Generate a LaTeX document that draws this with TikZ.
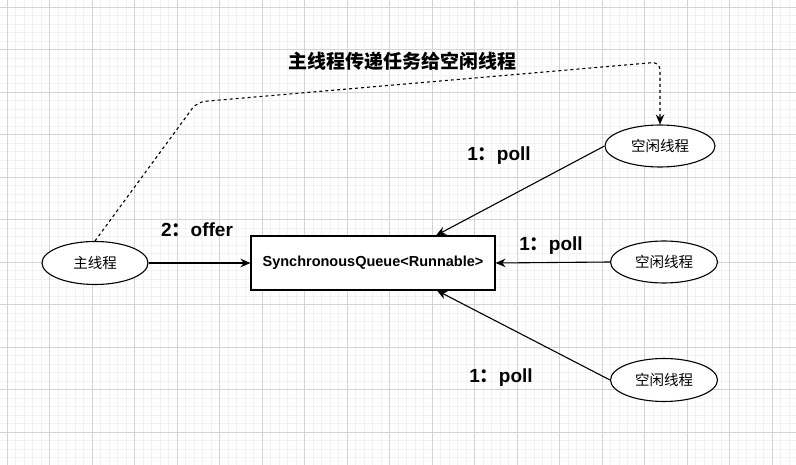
\documentclass[tikz,border=0pt]{standalone}
\usepackage{fontspec}
\setmainfont{Liberation Sans}
\newfontfamily\cjk{Noto Sans CJK SC}
\usetikzlibrary{arrows.meta,shapes.geometric}
\tikzset{
  minorgrid/.style={draw=black!5, line width=0.6pt},
  majorgrid/.style={draw=black!17, line width=0.8pt},
  oval/.style={ellipse, draw, line width=1.1pt, fill=white, inner sep=0pt, font=\cjk\fontsize{14.5}{16}\selectfont},
  queuebox/.style={rectangle, draw, line width=1.1pt, fill=white, minimum width=244pt, minimum height=54pt, inner sep=0pt, font=\bfseries\fontsize{14.5}{16}\selectfont},
  lbl/.style={inner sep=0pt, font=\bfseries\fontsize{19}{21}\selectfont},
  conn/.style={line width=1.1pt, -{Stealth[length=10pt,width=8.5pt]}},
  dashconn/.style={line width=1.1pt, dash pattern=on 3pt off 3pt, rounded corners=8pt, -{Stealth[length=10pt,width=8.5pt]}}
}
\begin{document}
\begin{tikzpicture}[x=1pt,y=-1pt]
\useasboundingbox (0,0) rectangle (796,465);
\begin{scope}
\clip (0,0) rectangle (796,465);
\fill[white] (0,0) rectangle (796,465);
\foreach \i in {0,...,94} {
  \draw[minorgrid] ({-1.5+8.5*\i},0) -- ++(0,465);
}
\foreach \i in {0,...,56} {
  \draw[minorgrid] (0,{-1.5+8.5*\i}) -- ++(796,0);
}
\foreach \i in {0,...,18} {
  \draw[majorgrid] ({7+42.5*\i},0) -- ++(0,465);
}
\foreach \i in {0,...,11} {
  \draw[majorgrid] (0,{7+42.5*\i}) -- ++(796,0);
}
\end{scope}

\node[oval, minimum width=106pt, minimum height=43pt] (main) at (95,263) {主线程};
\node[oval, minimum width=110pt, minimum height=42pt] (idle1) at (660,146) {空闲线程};
\node[oval, minimum width=107pt, minimum height=42pt] (idle2) at (664,262) {空闲线程};
\node[oval, minimum width=107pt, minimum height=43pt] (idle3) at (664,380) {空闲线程};
\node[queuebox] (box) at (373,263) {SynchronousQueue<Runnable>};

\node[lbl] (title) at (402,61) {\cjk 主线程传递任务给空闲线程};
\node[lbl] (offer) at (197,230) {2{\cjk ：}offer};
\node[lbl] (poll1) at (499,156) {1{\cjk ：}poll};
\node[lbl] (poll2) at (551,246) {1{\cjk ：}poll};
\node[lbl] (poll3) at (501,378) {1{\cjk ：}poll};

\coordinate (c1) at (197,102);
\coordinate (c2) at (660,62);

\draw[conn] (main.east) -- (box.west);
\draw[conn] (idle2.west) -- (box.east);
\draw[conn] (idle1.west) -- ([xshift=63pt]box.north);
\draw[conn] (idle3.west) -- ([xshift=64pt]box.south);
\draw[dashconn] (main.north) -- (c1) -- (c2) -- (idle1.north);
\end{tikzpicture}
\end{document}
